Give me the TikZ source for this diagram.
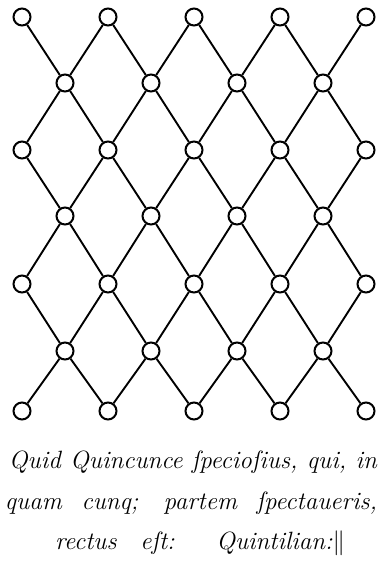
\documentclass[tikz,border=0pt]{standalone}
\usepackage{fontspec}
\begin{document}
\begin{tikzpicture}[x=1pt, y=-1pt,
    knot/.style={circle, draw=black, line width=2pt, fill=white,
                 minimum size=17pt, inner sep=0pt},
    cord/.style={black, line width=1.9pt},
    verse/.style={font=\itshape\fontsize{25}{28}\selectfont,
                  inner sep=0pt, anchor=base}]
  \useasboundingbox (0,0) rectangle (385,562);
  % ----- the knots of the quincunx
  \foreach \r/\y/\cols in {0/17/{0,2,4,6,8}, 1/83/{1,3,5,7},
                           2/150/{0,2,4,6,8}, 3/216/{1,3,5,7},
                           4/284/{0,2,4,6,8}, 5/351/{1,3,5,7},
                           6/411/{0,2,4,6,8}}
    \foreach \c in \cols
      \node[knot] (k\r\c) at ({22+43*\c},\y) {};
  % ----- the cords between them
  \foreach \r/\ru/\rd in {1/0/2, 3/2/4, 5/4/6}
    \foreach \c/\cl/\cr in {1/0/2, 3/2/4, 5/4/6, 7/6/8}
      \draw[cord] (k\ru\cl) -- (k\r\c) -- (k\rd\cr)
                  (k\ru\cr) -- (k\r\c) -- (k\rd\cl);
  % ----- motto below
  \node[verse] (m1) at (193,468)
    {\makebox[368pt][s]{Quid Quincunce ſpecioſius, qui, in}};
  \node[verse] (m2) at (191,509)
    {\addfontfeatures{LetterSpace=4}%
     \makebox[372pt][s]{quam cunq; partem ſpectaueris,}};
  \node[verse] (m3) at (200,549)
    {\addfontfeatures{LetterSpace=2}%
     \makebox[290pt][s]{rectus eſt: Quintilian:$\|$}};
\end{tikzpicture}
\end{document}
